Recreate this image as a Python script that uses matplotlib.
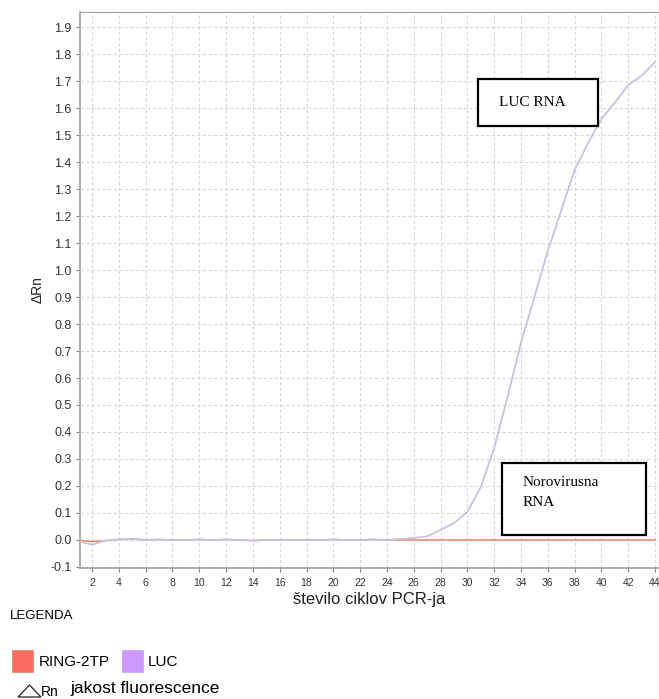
import numpy as np
import matplotlib.pyplot as plt
from matplotlib.patches import Rectangle, Polygon

# cikli PCR in izmerjene vrednosti dRn
cycles = list(range(1, 45))
luc = [-0.005, -0.018, -0.002, 0.002, 0.003, 0.001, 0.001, 0.0, 0.0, 0.001,
       0.0, 0.001, 0.0, -0.002, 0.0, 0.0, 0.0, 0.0, 0.0, 0.001,
       0.0, 0.0, 0.001, 0.0, 0.003, 0.008, 0.013, 0.037, 0.062, 0.104,
       0.195, 0.34, 0.53, 0.73, 0.90, 1.07, 1.22, 1.37, 1.47, 1.56,
       1.62, 1.685, 1.72, 1.77]
ring_2tp = [-0.002, -0.006, -0.003, 0.002, 0.003, 0.0, 0.002, 0.0, 0.0, 0.002,
            0.0, 0.002, 0.0, -0.003, 0.0, 0.0, 0.0, 0.0, 0.0, 0.002,
            0.0, 0.0, 0.002, 0.0, 0.0, 0.0, 0.0, 0.0, 0.0, 0.0,
            0.0, 0.0, 0.0, 0.0, 0.0, 0.0, 0.0, 0.0, 0.0, 0.0,
            0.0, 0.0, 0.0, 0.0]

x_ticks = list(range(2, 45, 2))
y_ticks = [round(v, 1) for v in np.arange(-0.1, 1.95, 0.1)]

LUC_COLOR = '#c4c4dc'
RING_COLOR = '#e87a66'

plt.rcParams['font.family'] = ['Liberation Sans', 'DejaVu Sans']

fig = plt.figure(figsize=(6.59, 6.99), dpi=100)
ax = fig.add_axes([0.1214, 0.1874, 0.8786, 0.7954])

ax.plot(cycles, ring_2tp, color=RING_COLOR, lw=1.0, zorder=3)
ax.plot(cycles, luc, color=LUC_COLOR, lw=1.3, zorder=4)

ax.set_xlim(1.1, 44.3)
ax.set_ylim(-0.104, 1.956)
ax.set_xticks(x_ticks)
ax.set_yticks(y_ticks)
ax.set_yticklabels([f'{v:.1f}' for v in y_ticks])
ax.tick_params(axis='x', labelsize=7.5, colors='#888888', labelcolor='#333333', length=3, pad=4)
ax.tick_params(axis='y', labelsize=9, colors='#888888', labelcolor='#333333', length=3, pad=3)
ax.grid(True, color='#d8d8d8', ls=(0, (3, 2)), lw=0.8)
for side in ['left', 'bottom', 'top']:
    ax.spines[side].set_color('#a0a0a0')
ax.spines['left'].set_linewidth(1.2)
ax.spines['bottom'].set_linewidth(1.2)
ax.spines['top'].set_linewidth(0.8)
ax.spines['right'].set_visible(False)

ax.set_xlabel('število ciklov PCR-ja', fontsize=12, color='#222222', labelpad=3)
ax.set_ylabel('ΔRn', fontsize=10, color='#222222', labelpad=4)

W, H = 659, 699


def fig_box(x0, y0, x1, y1):
    fig.add_artist(Rectangle((x0 / W, 1 - y1 / H), (x1 - x0) / W, (y1 - y0) / H,
                             transform=fig.transFigure, facecolor='white',
                             edgecolor='black', lw=1.6, zorder=10))


# okvirja z oznakami
fig_box(478, 79, 598, 126)
fig.text(499 / W, 1 - 102 / H, 'LUC RNA', family='Liberation Serif', fontsize=11,
         va='center', zorder=11)
fig_box(502, 463, 646, 535)
fig.text(523 / W, 1 - 482 / H, 'Norovirusna', family='Liberation Serif', fontsize=11,
         va='center', zorder=11)
fig.text(523 / W, 1 - 503 / H, 'RNA', family='Liberation Serif', fontsize=11,
         va='center', zorder=11)

# legenda
fig.text(10 / W, 1 - 616 / H, 'LEGENDA', fontsize=9.5, va='center')
fig.add_artist(Rectangle((12 / W, 1 - 672 / H), 21 / W, 22 / H, transform=fig.transFigure,
                         facecolor='#fc6a64', edgecolor='#d89070', lw=0.6))
fig.text(39 / W, 1 - 662 / H, 'RING-2TP', fontsize=11, va='center')
fig.add_artist(Rectangle((122 / W, 1 - 672 / H), 21 / W, 22 / H, transform=fig.transFigure,
                         facecolor='#cc99ff', edgecolor='#c8a8f0', lw=0.6))
fig.text(148 / W, 1 - 662 / H, 'LUC', fontsize=11, va='center')
# znak delta pred "Rn"
fig.add_artist(Polygon([(18 / W, 1 - 697 / H), (41 / W, 1 - 697 / H), (29.5 / W, 1 - 685 / H)],
                       closed=True, transform=fig.transFigure, facecolor='none',
                       edgecolor='#222222', lw=0.9))
fig.text(41 / W, 1 - 696 / H, 'Rn', fontsize=10, va='baseline')
fig.text(70 / W, 1 - 688 / H, 'jakost fluorescence', fontsize=12.5, va='center')

fig.savefig('out.png', dpi=100)
